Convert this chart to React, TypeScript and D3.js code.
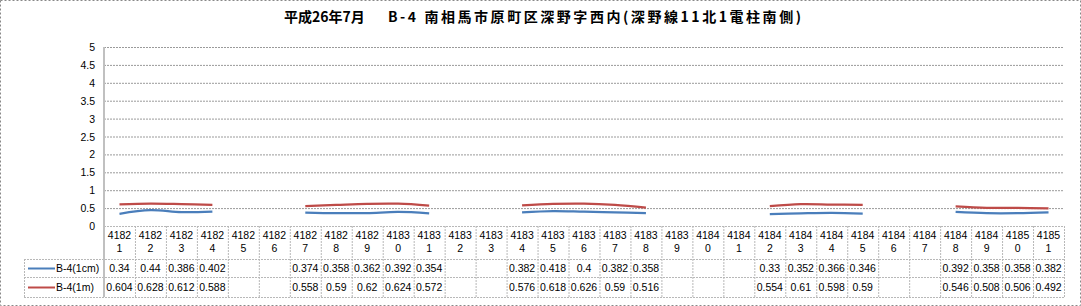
import React from "react";
import * as d3 from "d3";

const titleLeft = "平成26年7月";
const titleRight = "B-4 南相馬市原町区深野字西内(深野線11北1電柱南側)";
const categories = ["41821","41822","41823","41824","41825","41826","41827","41828","41829","41830","41831","41832","41833","41834","41835","41836","41837","41838","41839","41840","41841","41842","41843","41844","41845","41846","41847","41848","41849","41850","41851"];
const seriesNames = ["B-4(1cm)", "B-4(1m)"];
const s1cm: (number | null)[] = [0.34,0.44,0.386,0.402,null,null,0.374,0.358,0.362,0.392,0.354,null,null,0.382,0.418,0.4,0.382,0.358,null,null,null,0.33,0.352,0.366,0.346,null,null,0.392,0.358,0.358,0.382];
const s1m: (number | null)[] = [0.604,0.628,0.612,0.588,null,null,0.558,0.59,0.62,0.624,0.572,null,null,0.576,0.618,0.626,0.59,0.516,null,null,null,0.554,0.61,0.598,0.59,null,null,0.546,0.508,0.506,0.492];
const yTicks = [0, 0.5, 1, 1.5, 2, 2.5, 3, 3.5, 4, 4.5, 5];

const W = 1081, H = 306;
const PL = 104, PR = 1064, PT = 47, PB = 226;
const colors = ["#4A7EBB", "#BE4B48"];
const font = "'Liberation Sans', Arial, sans-serif";
const cjk = "'Noto Sans CJK JP', sans-serif";

export default function App() {
  const x = d3.scaleBand<string>().domain(categories).range([PL, PR]);
  const y = d3.scaleLinear().domain([0, 5]).range([PB, PT]);
  const bw = x.bandwidth();
  const line = d3.line<number | null>()
    .defined((d) => d != null)
    .x((_, i) => (x(categories[i]) as number) + bw / 2)
    .y((d) => y(d as number))
    .curve(d3.curveCatmullRom.alpha(0.5));
  const series = [s1cm, s1m];
  const rowTop = 259, rowMid = 277, rowBot = 297;
  const gridCol = "#9a9a9a";
  const tblCol = "#b8b8b8";
  return (
    <div style={{ position: "absolute", left: 0, top: 0 }}>
      <svg width={W} height={H} style={{ display: "block" }}>
        <rect x={0} y={0} width={W} height={H} fill="#fff" />
        <rect x={0.5} y={0.5} width={W - 1} height={H - 1} fill="none" stroke="#888" strokeDasharray="2,2" />
        <text x={284} y={22} fontFamily={cjk} fontWeight="bold" fontSize={14} fill="#000">{titleLeft}</text>
        <text x={388} y={22} fontFamily={cjk} fontWeight="bold" fontSize={14} fill="#000" textLength={413} lengthAdjust="spacing">{titleRight}</text>
        {yTicks.map((t) => (
          <g key={t}>
            {t > 0 && <line x1={PL} x2={PR} y1={y(t) + 0.5} y2={y(t) + 0.5} stroke={gridCol} strokeDasharray="2,1" />}
            <text x={95} y={y(t) + 4} textAnchor="end" fontFamily={font} fontSize={10.5} fill="#000">{t}</text>
          </g>
        ))}
        <line x1={PL} x2={PR} y1={PB + 0.5} y2={PB + 0.5} stroke={tblCol} strokeDasharray="2,1" />
        {[rowTop, rowMid, rowBot].map((yy) => (
          <line key={yy} x1={24} x2={PR} y1={yy + 0.5} y2={yy + 0.5} stroke={tblCol} strokeDasharray="2,1" />
        ))}
        <line x1={24.5} x2={24.5} y1={rowTop} y2={rowBot} stroke={tblCol} strokeDasharray="2,1" />
        {categories.map((c, i) => (i > 0 ? (
          <line key={c} x1={(x(c) as number) + 0.5} x2={(x(c) as number) + 0.5} y1={PB} y2={rowBot} stroke={tblCol} strokeDasharray="2,1" />
        ) : null))}
        <line x1={PR + 0.5} x2={PR + 0.5} y1={PB} y2={rowBot} stroke={tblCol} strokeDasharray="2,1" />
        <line x1={PL} x2={PL} y1={PT} y2={rowBot} stroke="#c0c0c0" strokeWidth={2} />
        {categories.map((c) => (
          <g key={c} fontFamily={font} fontSize={10.5} textAnchor="middle" fill="#000">
            <text x={(x(c) as number) + bw / 2} y={239}>{c.slice(0, 4)}</text>
            <text x={(x(c) as number) + bw / 2} y={252}>{c.slice(4)}</text>
          </g>
        ))}
        {series.map((s, si) => (
          <g key={si}>
            <line x1={28} x2={55} y1={si === 0 ? 268.5 : 287.5} y2={si === 0 ? 268.5 : 287.5} stroke={colors[si]} strokeWidth={2} />
            <text x={56} y={si === 0 ? 272 : 291} fontFamily={font} fontSize={10.5} fill="#000">{seriesNames[si]}</text>
            {s.map((v, i) => v == null ? null : (
              <text key={i} x={(x(categories[i]) as number) + bw / 2} y={si === 0 ? 272 : 291} textAnchor="middle" fontFamily={font} fontSize={10.5} fill="#000">{String(v)}</text>
            ))}
            <path d={line(s) || ""} fill="none" stroke={colors[si]} strokeWidth={2.25} />
          </g>
        ))}
      </svg>
    </div>
  );
}
